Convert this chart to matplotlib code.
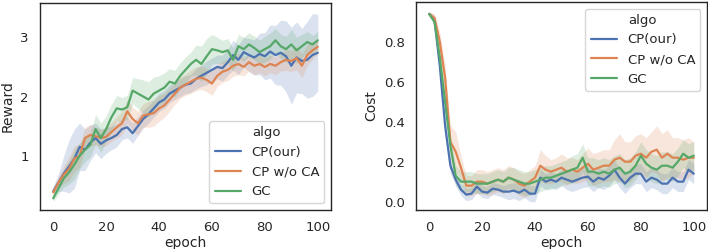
import numpy as np
import matplotlib
matplotlib.use('Agg')
import matplotlib.pyplot as plt
import seaborn as sns

sns.set_theme(style='white')
plt.rcParams['font.family'] = ['DejaVu Sans']

# epochs sampled every 2
epoch = list(range(0, 101, 2))
algos = ['CP(our)', 'CP w/o CA', 'GC']

# Reward curves
reward_cp = [0.40, 0.55, 0.70, 0.82, 0.95, 1.15, 1.10, 1.22, 1.30, 1.20, 1.26, 1.30, 1.35, 1.45, 1.48, 1.38,
             1.50, 1.62, 1.70, 1.80, 1.90, 1.95, 2.05, 2.10, 2.15, 2.20, 2.22, 2.30, 2.35, 2.40, 2.45, 2.50,
             2.48, 2.58, 2.70, 2.62, 2.75, 2.70, 2.66, 2.72, 2.68, 2.76, 2.70, 2.74, 2.68, 2.52, 2.66, 2.60,
             2.62, 2.70, 2.74]
reward_cp_err = [0.08, 0.15, 0.30, 0.45, 0.50, 0.40, 0.35, 0.30, 0.25, 0.25, 0.22, 0.20, 0.20, 0.18, 0.18, 0.17,
                 0.16, 0.15, 0.15, 0.15, 0.15, 0.15, 0.15, 0.15, 0.15, 0.15, 0.15, 0.17, 0.18, 0.20, 0.20, 0.20,
                 0.22, 0.22, 0.25, 0.25, 0.25, 0.28, 0.30, 0.35, 0.40, 0.45, 0.50, 0.55, 0.60, 0.65, 0.60, 0.55,
                 0.65, 0.70, 0.65]
reward_cpwo = [0.38, 0.55, 0.68, 0.78, 0.95, 1.00, 1.30, 1.35, 1.33, 1.30, 1.32, 1.40, 1.48, 1.55, 1.75, 1.62,
               1.55, 1.68, 1.70, 1.72, 1.80, 1.85, 1.95, 2.05, 2.15, 2.20, 2.25, 2.30, 2.32, 2.28, 2.22, 2.35,
               2.42, 2.45, 2.52, 2.55, 2.50, 2.58, 2.52, 2.55, 2.50, 2.55, 2.52, 2.58, 2.62, 2.60, 2.65, 2.52,
               2.70, 2.78, 2.84]
reward_cpwo_err = [0.06, 0.10, 0.15, 0.20, 0.22, 0.20, 0.18, 0.18, 0.15, 0.15, 0.15, 0.16, 0.18, 0.20, 0.20, 0.20,
                   0.20, 0.20, 0.22, 0.22, 0.22, 0.20, 0.20, 0.18, 0.18, 0.18, 0.20, 0.20, 0.20, 0.20, 0.20, 0.18,
                   0.18, 0.18, 0.18, 0.18, 0.15, 0.15, 0.15, 0.15, 0.15, 0.15, 0.15, 0.15, 0.18, 0.18, 0.20, 0.20,
                   0.18, 0.15, 0.12]
reward_gc = [0.28, 0.45, 0.62, 0.72, 0.85, 1.00, 1.10, 1.18, 1.45, 1.30, 1.45, 1.65, 1.80, 1.78, 1.82, 2.10,
             2.05, 2.00, 1.95, 2.05, 2.10, 2.15, 2.25, 2.22, 2.35, 2.45, 2.55, 2.62, 2.55, 2.68, 2.80, 2.78,
             2.75, 2.78, 2.62, 2.85, 2.80, 2.88, 2.82, 2.75, 2.80, 2.85, 2.95, 2.85, 2.80, 2.88, 2.78, 2.85,
             2.92, 2.88, 2.95]
reward_gc_err = [0.06, 0.10, 0.15, 0.20, 0.25, 0.22, 0.20, 0.20, 0.25, 0.25, 0.22, 0.22, 0.22, 0.20, 0.20, 0.22,
                 0.25, 0.28, 0.30, 0.28, 0.25, 0.25, 0.22, 0.22, 0.22, 0.22, 0.20, 0.25, 0.30, 0.30, 0.25, 0.22,
                 0.20, 0.20, 0.20, 0.20, 0.20, 0.20, 0.20, 0.20, 0.22, 0.22, 0.20, 0.20, 0.22, 0.25, 0.22, 0.20,
                 0.18, 0.15, 0.15]

# Cost curves
cost_cp = [0.94, 0.91, 0.68, 0.38, 0.18, 0.11, 0.06, 0.035, 0.04, 0.075, 0.05, 0.045, 0.065, 0.06, 0.05, 0.05,
           0.055, 0.045, 0.06, 0.04, 0.04, 0.12, 0.10, 0.11, 0.10, 0.12, 0.11, 0.10, 0.11, 0.12, 0.125, 0.10,
           0.12, 0.11, 0.13, 0.16, 0.12, 0.09, 0.12, 0.14, 0.14, 0.10, 0.12, 0.11, 0.09, 0.09, 0.12, 0.10,
           0.10, 0.16, 0.14]
cost_cp_err = [0.01, 0.02, 0.04, 0.05, 0.04, 0.03, 0.03, 0.03, 0.03, 0.03, 0.03, 0.03, 0.03, 0.03, 0.03, 0.04,
               0.04, 0.04, 0.04, 0.04, 0.04, 0.04, 0.04, 0.04, 0.04, 0.04, 0.05, 0.05, 0.05, 0.05, 0.05, 0.05,
               0.05, 0.05, 0.05, 0.05, 0.05, 0.05, 0.05, 0.05, 0.05, 0.05, 0.05, 0.05, 0.05, 0.05, 0.05, 0.05,
               0.05, 0.05, 0.05]
cost_cpwo = [0.94, 0.92, 0.80, 0.62, 0.30, 0.25, 0.17, 0.08, 0.08, 0.10, 0.10, 0.09, 0.10, 0.11, 0.10, 0.12,
             0.11, 0.09, 0.08, 0.10, 0.12, 0.18, 0.16, 0.15, 0.16, 0.17, 0.15, 0.16, 0.15, 0.17, 0.19, 0.16,
             0.17, 0.18, 0.18, 0.21, 0.22, 0.20, 0.20, 0.23, 0.24, 0.22, 0.25, 0.26, 0.22, 0.24, 0.22, 0.22,
             0.21, 0.22, 0.22]
cost_cpwo_err = [0.01, 0.02, 0.05, 0.06, 0.08, 0.10, 0.06, 0.05, 0.05, 0.06, 0.06, 0.06, 0.06, 0.06, 0.06, 0.06,
                 0.06, 0.06, 0.06, 0.06, 0.06, 0.08, 0.07, 0.06, 0.06, 0.07, 0.07, 0.06, 0.06, 0.07, 0.08, 0.08,
                 0.08, 0.08, 0.08, 0.10, 0.12, 0.10, 0.10, 0.10, 0.10, 0.10, 0.10, 0.12, 0.12, 0.12, 0.10, 0.10,
                 0.10, 0.10, 0.08]
cost_gc = [0.94, 0.90, 0.72, 0.50, 0.28, 0.13, 0.10, 0.10, 0.10, 0.09, 0.09, 0.09, 0.10, 0.11, 0.10, 0.12,
           0.11, 0.10, 0.09, 0.09, 0.10, 0.11, 0.12, 0.12, 0.13, 0.14, 0.15, 0.16, 0.17, 0.22, 0.15, 0.15,
           0.14, 0.15, 0.14, 0.16, 0.17, 0.14, 0.15, 0.18, 0.23, 0.19, 0.17, 0.16, 0.18, 0.18, 0.17, 0.20,
           0.24, 0.22, 0.23]
cost_gc_err = [0.01, 0.02, 0.04, 0.05, 0.05, 0.05, 0.05, 0.05, 0.05, 0.05, 0.05, 0.05, 0.05, 0.05, 0.05, 0.05,
               0.06, 0.06, 0.06, 0.06, 0.06, 0.06, 0.06, 0.06, 0.06, 0.06, 0.06, 0.07, 0.07, 0.07, 0.07, 0.07,
               0.07, 0.07, 0.07, 0.07, 0.07, 0.07, 0.07, 0.07, 0.07, 0.07, 0.07, 0.07, 0.07, 0.07, 0.07, 0.07,
               0.07, 0.07, 0.07]

colors = ['#4C72B0', '#DD8452', '#55A868']

fig = plt.figure(figsize=(7.08, 2.49), dpi=100)
ax1 = fig.add_axes([40 / 708, 39 / 249, 291 / 708, 207 / 249])
ax2 = fig.add_axes([416 / 708, 39 / 249, 291 / 708, 208 / 249])

x = np.array(epoch)
for ax, series in [(ax1, [(reward_cp, reward_cp_err), (reward_cpwo, reward_cpwo_err), (reward_gc, reward_gc_err)]),
                   (ax2, [(cost_cp, cost_cp_err), (cost_cpwo, cost_cpwo_err), (cost_gc, cost_gc_err)])]:
    for (m, e), c, name in zip(series, colors, algos):
        m = np.array(m)
        e = np.array(e)
        ax.fill_between(x, m - e, m + e, color=c, alpha=0.2, linewidth=0)
        ax.plot(x, m, color=c, lw=1.6, label=name)
    ax.set_xlim(-5, 105)
    ax.set_xticks([0, 20, 40, 60, 80, 100])
    ax.set_xlabel('epoch', fontsize=10, labelpad=1)
    ax.tick_params(labelsize=9.5, pad=2)
    for s in ax.spines.values():
        s.set_color('#262626')
        s.set_linewidth(1.0)

ax1.set_ylim(0.083, 3.58)
ax1.set_yticks([1, 2, 3])
ax1.set_ylabel('Reward', fontsize=10, labelpad=4)
ax1.legend(title='algo', loc='lower right', fontsize=9.5, title_fontsize=9.5,
           handlelength=2.0, borderaxespad=0.5)

ax2.set_ylim(-0.042, 1.0)
ax2.set_yticks([0.0, 0.2, 0.4, 0.6, 0.8])
ax2.set_ylabel('Cost', fontsize=10, labelpad=4)
ax2.legend(title='algo', loc='upper right', fontsize=9.5, title_fontsize=9.5,
           handlelength=2.0, borderaxespad=0.5)

fig.savefig('out.png', dpi=100)
